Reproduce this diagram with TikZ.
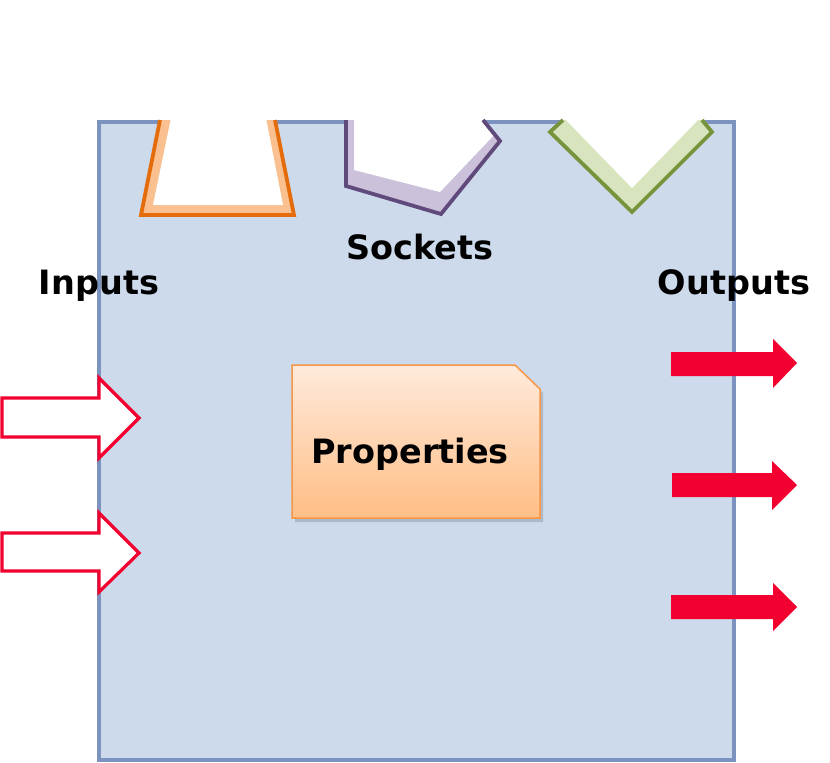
\documentclass[tikz,border=0pt]{standalone}
\usepackage{fontspec}
\setmainfont{DejaVu Sans}
\definecolor{boxfill}{HTML}{CDDAEB}
\definecolor{boxline}{HTML}{7C93BF}
\definecolor{orgdark}{HTML}{E46C0A}
\definecolor{orglight}{HTML}{FAC090}
\definecolor{purdark}{HTML}{604A7B}
\definecolor{purlight}{HTML}{CCC1DA}
\definecolor{grndark}{HTML}{77933C}
\definecolor{grnlight}{HTML}{D7E4BD}
\definecolor{arrred}{HTML}{F20030}
\definecolor{propline}{HTML}{F79646}
\definecolor{proptop}{HTML}{FFEADB}
\definecolor{propbot}{HTML}{FFBE86}
\tikzset{
  lbl/.style={font=\bfseries\fontsize{33.5}{40}\selectfont, anchor=base, inner sep=0pt},
  inarrow/.style={draw=arrred, line width=3.2pt, fill=white, line join=miter},
  outarrow/.style={fill=arrred},
  sockline/.style={line width=3.8pt, line join=miter, line cap=butt}
}
\begin{document}
\begin{tikzpicture}[x=1pt,y=-1pt]
\useasboundingbox (0,0) rectangle (830,763);
% main box
\fill[boxfill] (99,122) rectangle (734,760);
\draw[boxline, line width=3.2pt] (99,122) rectangle (734,760);
% orange socket
\fill[orglight] (160,120) -- (141,215) -- (294,215) -- (275,120) -- cycle;
\fill[white] (171,118) -- (153,205) -- (283,205) -- (266,118) -- cycle;
\draw[orgdark, sockline] (160,120) -- (141,215) -- (294,215) -- (275,120);
% purple socket
\fill[purlight] (346,120) -- (346,186) -- (441,214) -- (500,141) -- (483,120) -- cycle;
\fill[white] (354,118) -- (354,170) -- (440,192) -- (495,134) -- (483,118) -- cycle;
\draw[purdark, sockline] (346,120) -- (346,186) -- (441,214) -- (500,141) -- (483,120);
% green socket
\fill[grnlight] (563,120) -- (550,132) -- (632,212) -- (712,132) -- (702,120) -- cycle;
\fill[white] (564,118) -- (632,188) -- (700,118) -- cycle;
\draw[grndark, sockline] (563,120) -- (550,132) -- (632,212) -- (712,132) -- (702,120);
% labels
\node[lbl] (sockets) at (420,259) {Sockets};
\node[lbl] (inputs) at (99,294) {Inputs};
\node[lbl] (outputs) at (734,294) {Outputs};
% properties
\fill[black, opacity=0.15] (295,369) -- (518,369) -- (543,393) -- (543,522) -- (295,522) -- cycle;
\path[top color=proptop, bottom color=propbot, draw=propline, line width=1.5pt]
  (292,365) -- (515,365) -- (540,389) -- (540,518) -- (292,518) -- cycle;
\node[lbl] (props) at (410,463) {Properties};
% input arrows
\draw[inarrow] (2,398) -- (99,398) -- (99,378) -- (139,418) -- (99,458) -- (99,437) -- (2,437) -- cycle;
\draw[inarrow] (2,533) -- (99,533) -- (99,513) -- (139,553) -- (99,592) -- (99,571) -- (2,571) -- cycle;
% output arrows
\fill[outarrow] (671,352) -- (773,352) -- (773,339) -- (797,363) -- (773,388) -- (773,376) -- (671,376) -- cycle;
\fill[outarrow] (672,473) -- (772,473) -- (772,461) -- (797,485) -- (772,510) -- (772,497) -- (672,497) -- cycle;
\fill[outarrow] (671,595) -- (773,595) -- (773,583) -- (797,607) -- (773,631) -- (773,619) -- (671,619) -- cycle;
\end{tikzpicture}
\end{document}
